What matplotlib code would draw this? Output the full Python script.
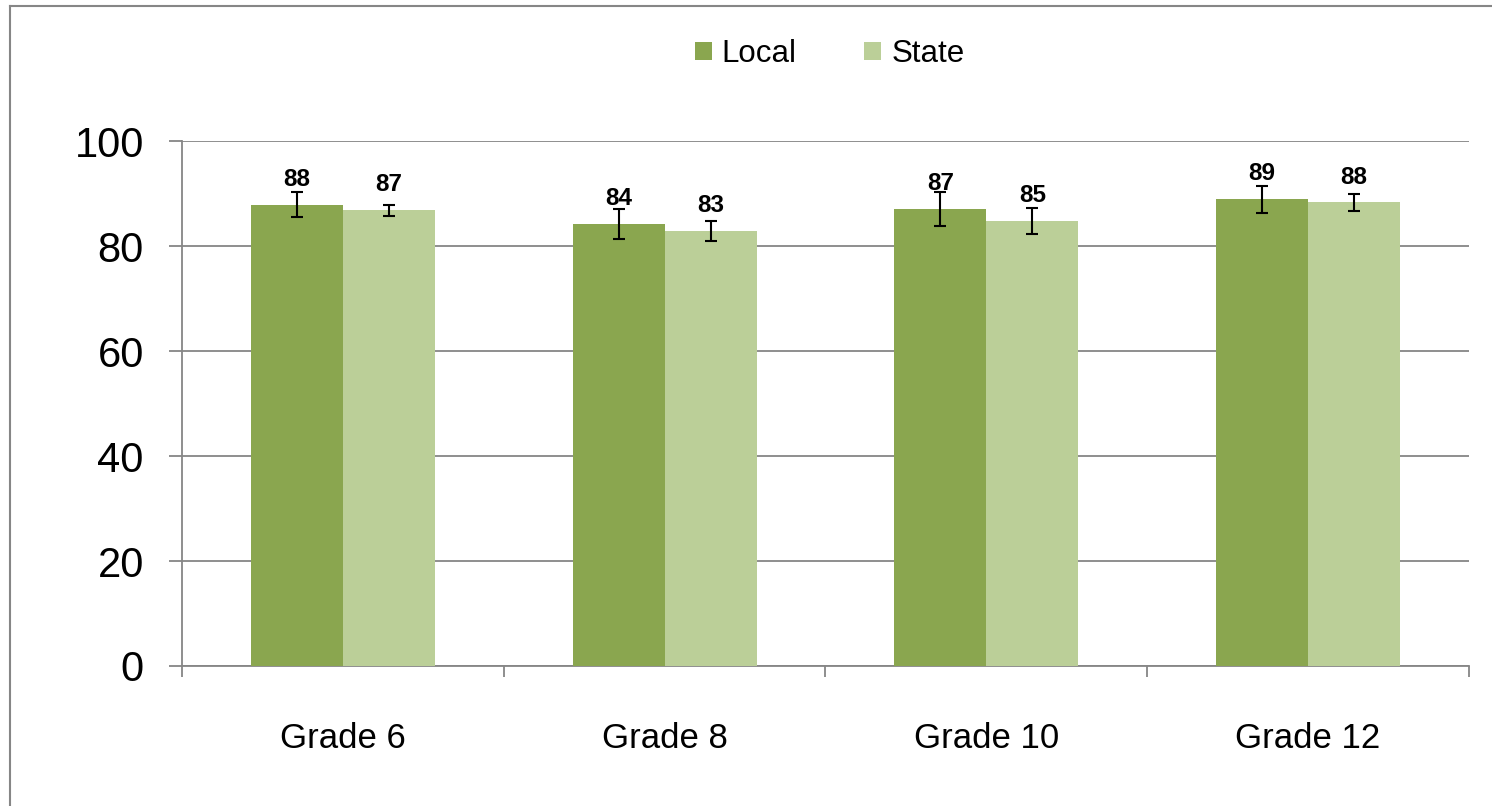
import numpy as np
import matplotlib.pyplot as plt
from matplotlib.lines import Line2D

plt.rcParams['font.family'] = ['Liberation Sans', 'DejaVu Sans']

# Data
grades = ['Grade 6', 'Grade 8', 'Grade 10', 'Grade 12']
local = [87.9, 84.2, 87.1, 88.9]
state = [86.8, 82.9, 84.7, 88.3]
local_err = [2.4, 2.8, 3.2, 2.6]
state_err = [1.1, 1.9, 2.5, 1.6]
local_labels = ['88', '84', '87', '89']
state_labels = ['87', '83', '85', '88']
y_ticks = [0, 20, 40, 60, 80, 100]

c_local = '#8AA64F'
c_state = '#BBCF98'
grey = '#868686'

fig = plt.figure(figsize=(14.92, 8.06), dpi=100)
ax = fig.add_axes([0.122, 0.1737, 0.8625, 0.6513])

x = np.arange(len(grades))
w = 0.286
bl = ax.bar(x - w / 2, local, w, color=c_local, label='Local', zorder=3)
bs = ax.bar(x + w / 2, state, w, color=c_state, label='State', zorder=3)

ax.errorbar(x - w / 2, local, yerr=local_err, fmt='none', ecolor='black',
            elinewidth=1.5, capsize=4.5, capthick=1.5, zorder=4)
ax.errorbar(x + w / 2, state, yerr=state_err, fmt='none', ecolor='black',
            elinewidth=1.5, capsize=4.5, capthick=1.5, zorder=4)

# value labels above each bar
for xs, vals, labs in [(x - w / 2, local, local_labels), (x + w / 2, state, state_labels)]:
    for xi, v, lab in zip(xs, vals, labs):
        ax.annotate(lab, (xi, v), xytext=(0, 10), textcoords='offset points',
                    ha='center', va='bottom', fontsize=17.5, fontweight='bold', zorder=5)

ax.set_xlim(-0.5, len(grades) - 0.5)
ax.set_ylim(0, 100)
ax.set_yticks(y_ticks)
ax.set_yticklabels([str(t) for t in y_ticks])
ax.yaxis.grid(True, color=grey, linewidth=1.3, zorder=0)
ax.set_axisbelow(True)

# category labels, with tick marks between the groups
ax.set_xticks(x)
ax.set_xticklabels(grades)
ax.set_xticks(np.arange(len(grades) + 1) - 0.5, minor=True)
ax.tick_params(axis='x', which='major', length=0, pad=40, labelsize=25)
ax.tick_params(axis='x', which='minor', length=8, width=1.3, color=grey, direction='out')
ax.tick_params(axis='y', length=9.5, width=1.3, color=grey, pad=18, labelsize=30)

for s in ['top', 'right']:
    ax.spines[s].set_visible(False)
for s in ['left', 'bottom']:
    ax.spines[s].set_color(grey)
    ax.spines[s].set_linewidth(1.3)

fig.legend(handles=[bl, bs], labels=['Local', 'State'], loc='center',
           bbox_to_anchor=(0.556, 0.933), ncol=2, frameon=False, fontsize=22.5,
           handlelength=0.55, handleheight=0.55, handletextpad=0.32, columnspacing=2.15)

# outer chart frame
fig.add_artist(Line2D([10 / 1492, 10 / 1492], [0, 1 - 6 / 806], color=grey, lw=1.5))
fig.add_artist(Line2D([10 / 1492, 1], [1 - 6 / 806, 1 - 6 / 806], color=grey, lw=1.5))

fig.savefig('out.png', dpi=100)
